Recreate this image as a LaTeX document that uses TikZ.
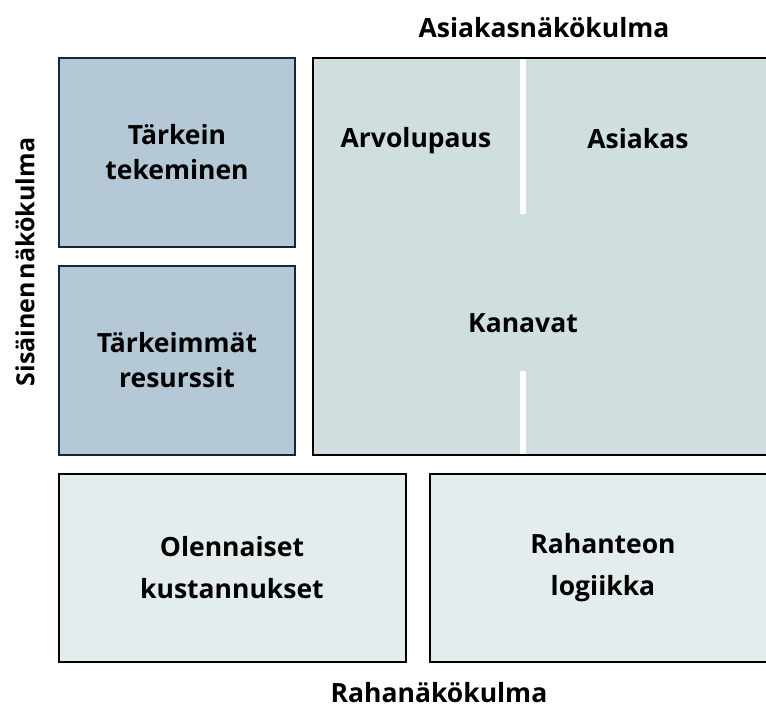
\documentclass[tikz,border=0pt]{standalone}
\usepackage{fontspec}
\setmainfont{Open Sans}
\begin{document}
\begin{tikzpicture}[x=1pt,y=-1pt,
  box/.style={line width=2pt},
  lbl/.style={font=\bfseries\fontsize{26.5}{35}\selectfont, align=center, text=black, inner sep=0pt},
  axis/.style={font=\bfseries\fontsize{26.5}{30}\selectfont, inner sep=0pt}]
\definecolor{darkblue}{HTML}{B4C9D5}
\definecolor{midgrey}{HTML}{CFDFE0}
\definecolor{lightgrey}{HTML}{E4EDED}
\definecolor{navy}{HTML}{14283A}
\useasboundingbox (0,0) rectangle (766,709);
% internal perspective
\filldraw[box, fill=darkblue, draw=navy] (59,58) rectangle (295,247);
\filldraw[box, fill=darkblue, draw=navy] (59,266) rectangle (295,455);
% customer perspective
\filldraw[box, fill=midgrey, draw=black] (313,58) rectangle (780,455);
\fill[white] (519.5,59) rectangle (526,214);
\fill[white] (519.5,371) rectangle (526,454);
% money perspective
\filldraw[box, fill=lightgrey, draw=black] (59,474) rectangle (406,662);
\filldraw[box, fill=lightgrey, draw=black] (430,474) rectangle (780,662);
% texts
\node[lbl] (t1) at (177,152) {Tärkein\\tekeminen};
\node[lbl] (t2) at (177,360) {Tärkeimmät\\resurssit};
\node[lbl] (t3) at (416,141) {Arvolupaus};
\node[lbl] (t4) at (638,139) {Asiakas};
\node[lbl] (t5) at (523,323) {Kanavat};
\node[lbl, font=\bfseries\fontsize{26.5}{42}\selectfont] (t6) at (232,568) {Olennaiset\\kustannukset};
\node[lbl, font=\bfseries\fontsize{26.5}{42}\selectfont] (t7) at (603,568) {Rahanteon\\logiikka};
\node[axis] (a1) at (544,28) {Asiakasnäkökulma};
\node[axis] (a2) at (439,693) {Rahanäkökulma};
\node[axis, rotate=90, font=\bfseries\fontsize{25}{30}\selectfont] (a3) at (25,262) {Sisäinen\hspace{0.12em}näkökulma};
\end{tikzpicture}
\end{document}
